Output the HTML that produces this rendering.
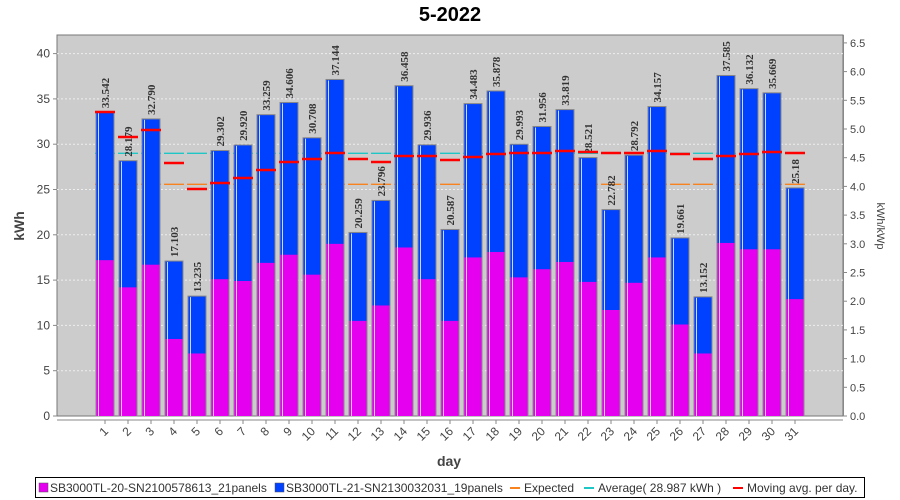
<!DOCTYPE html>
<html><head><meta charset="utf-8"><style>
html,body{margin:0;padding:0;background:#fff;width:900px;height:500px;overflow:hidden}
svg{display:block;font-family:"Liberation Sans",sans-serif}
</style></head><body>
<svg id="s" width="900" height="500" xmlns="http://www.w3.org/2000/svg"></svg>
<script>
const tot=[33.542,28.179,32.790,17.103,13.235,29.302,29.920,33.259,34.606,30.708,37.144,20.259,23.796,36.458,29.936,20.587,34.483,35.878,29.993,31.956,33.819,28.521,22.782,28.792,34.157,19.661,13.152,37.585,36.132,35.669,25.18];
const lab=["33.542","28.179","32.790","17.103","13.235","29.302","29.920","33.259","34.606","30.708","37.144","20.259","23.796","36.458","29.936","20.587","34.483","35.878","29.993","31.956","33.819","28.521","22.782","28.792","34.157","19.661","13.152","37.585","36.132","35.669","25.18"];
const mag=[17.2,14.2,16.7,8.5,6.9,15.1,14.9,16.9,17.8,15.6,19.0,10.5,12.2,18.6,15.1,10.5,17.5,18.1,15.3,16.2,17.0,14.8,11.7,14.7,17.5,10.1,6.9,19.1,18.4,18.4,12.9];
const mv=[112,137,130,163,189,183,178,170,162,159,153,159,162,156,156,160,157,154,153,153,151,152,153,153,151,154,159,156,154,152,153];
const L=57,T=35,R=843,B=416,k=9.06;
const Y=v=>B-v*k;
let s='';
s+=`<text x="450" y="21" font-size="20" font-weight="bold" text-anchor="middle">5-2022</text>`;
s+=`<rect x="${L}" y="${T}" width="${R-L}" height="${B-T}" fill="#cccccc" stroke="#777" stroke-width="1"/>`;
for(let v=0;v<=40;v+=5){const y=Y(v);
 if(v>0)s+=`<line x1="${L}" x2="${R}" y1="${y}" y2="${y}" stroke="#eee" stroke-dasharray="2,2"/>`;
 s+=`<line x1="${L-4}" x2="${L}" y1="${y}" y2="${y}" stroke="#888"/><text x="${L-7}" y="${y+4}" font-size="12" fill="#444" text-anchor="end">${v}</text>`;}
for(let i=0;i<=13;i++){const v=i*0.5,y=B-v*57.4;
 s+=`<line x1="${R}" x2="${R+4}" y1="${y}" y2="${y}" stroke="#888"/><text x="${R+7}" y="${y+4}" font-size="11" fill="#444">${v.toFixed(1)}</text>`;}
s+=`<line x1="${L}" x2="${R}" y1="${B+4}" y2="${B+4}" stroke="#888"/>`;
s+=`<line x1="${R+0.5}" x2="${R+0.5}" y1="${T}" y2="${B}" stroke="#888"/>`;
// expected / average lines
for(let i=0;i<31;i++){const cx=105+23*i;
 s+=`<line x1="${cx-10}" x2="${cx+10}" y1="184.3" y2="184.3" stroke="#f7821e" stroke-width="1.3"/>`;
 s+=`<line x1="${cx-10}" x2="${cx+10}" y1="153.3" y2="153.3" stroke="#1fc6c6" stroke-width="1.3"/>`;}
for(let i=0;i<31;i++){const cx=105+23*i,x=cx-9,yt=Y(tot[i]),ym=Y(mag[i]);
 s+=`<rect x="${x}" y="${yt}" width="18" height="${B-yt}" fill="#0040ff" stroke="#888" stroke-width="1"/>`;
 s+=`<rect x="${x+0.5}" y="${ym}" width="17" height="${B-ym}" fill="#e600f0"/>`;
 s+=`<line x1="${x+2.5}" x2="${x+2.5}" y1="${yt+1}" y2="${B}" stroke="#fff" stroke-opacity="0.8" stroke-width="1"/>`;
 s+=`<text transform="translate(${cx+4},${yt-4}) rotate(-90)" font-family="Liberation Serif,serif" font-weight="bold" font-size="11" fill="#333">${lab[i]}</text>`;
 s+=`<line x1="${cx-10}" x2="${cx+10}" y1="${mv[i]}" y2="${mv[i]}" stroke="#ff0000" stroke-width="2.5"/>`;
 s+=`<line x1="${cx}" x2="${cx}" y1="${B+4}" y2="${B+8}" stroke="#888"/>`;
 s+=`<text transform="translate(${cx+4},${B+16}) rotate(-45)" font-size="12" fill="#444" text-anchor="end">${i+1}</text>`;}
s+=`<text transform="translate(24,226) rotate(-90)" font-size="14" font-weight="bold" fill="#444" text-anchor="middle">kWh</text>`;
s+=`<text transform="translate(877,226) rotate(90)" font-size="11" fill="#444" text-anchor="middle">kWh/kWp</text>`;
s+=`<text x="449" y="466" font-size="14" font-weight="bold" fill="#444" text-anchor="middle">day</text>`;
s+=`<rect x="35.5" y="477.5" width="829" height="20" fill="#fff" stroke="#000"/>`;
s+=`<rect x="39" y="483" width="9" height="9" fill="#e600f0" stroke="#555" stroke-width="0.5"/><text x="50" y="492" font-size="12" fill="#333">SB3000TL-20-SN2100578613_21panels</text>`;
s+=`<rect x="275" y="483" width="9" height="9" fill="#0040ff" stroke="#555" stroke-width="0.5"/><text x="286" y="492" font-size="12" fill="#333">SB3000TL-21-SN2130032031_19panels</text>`;
s+=`<line x1="510" x2="520" y1="488" y2="488" stroke="#f7821e" stroke-width="2"/><text x="524" y="492" font-size="12" fill="#333">Expected</text>`;
s+=`<line x1="584" x2="594" y1="488" y2="488" stroke="#1fc6c6" stroke-width="2"/><text x="598" y="492" font-size="12" fill="#333">Average( 28.987 kWh )</text>`;
s+=`<line x1="733" x2="743" y1="488" y2="488" stroke="#ff0000" stroke-width="2"/><text x="747" y="492" font-size="12" fill="#333">Moving avg. per day.</text>`;
document.getElementById('s').innerHTML=s;
</script>
</body></html>
